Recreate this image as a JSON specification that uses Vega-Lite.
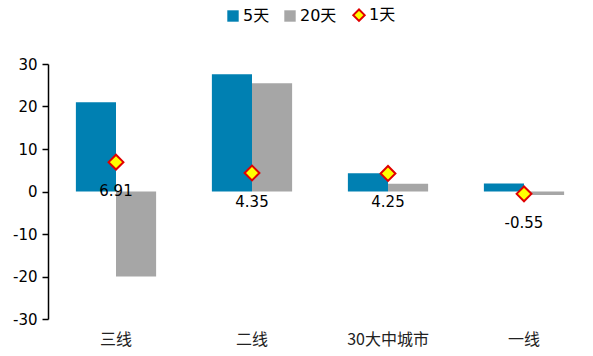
{
  "$schema": "https://vega.github.io/schema/vega-lite/v6.json",
  "autosize": {"type": "none"},
  "width": 544,
  "height": 255,
  "padding": {"left": 48, "top": 64, "right": 1, "bottom": 37},
  "background": "white",
  "config": {
    "view": {"stroke": null},
    "font": "DejaVu Sans"
  },
  "data": {
    "values": [
      {"city": "三线", "series": "5天", "value": 21.0},
      {"city": "三线", "series": "20天", "value": -20.0},
      {"city": "三线", "series": "1天", "value": 6.91},
      {"city": "二线", "series": "5天", "value": 27.6},
      {"city": "二线", "series": "20天", "value": 25.5},
      {"city": "二线", "series": "1天", "value": 4.35},
      {"city": "30大中城市", "series": "5天", "value": 4.3},
      {"city": "30大中城市", "series": "20天", "value": 1.8},
      {"city": "30大中城市", "series": "1天", "value": 4.25},
      {"city": "一线", "series": "5天", "value": 1.9},
      {"city": "一线", "series": "20天", "value": -0.8},
      {"city": "一线", "series": "1天", "value": -0.55}
    ]
  },
  "encoding": {
    "x": {
      "field": "city",
      "type": "nominal",
      "sort": ["三线", "二线", "30大中城市", "一线"],
      "scale": {"paddingInner": 0.41, "paddingOuter": 0.205},
      "axis": {
        "title": null,
        "orient": "bottom",
        "domain": false,
        "ticks": false,
        "labelAngle": 0,
        "labelFont": "Noto Sans CJK SC",
        "labelFontSize": 16,
        "labelColor": "#222222",
        "labelPadding": 12
      }
    }
  },
  "layer": [
    {
      "transform": [{"filter": "datum.series !== '1天'"}],
      "mark": {"type": "bar"},
      "encoding": {
        "xOffset": {"field": "series", "type": "nominal", "sort": ["5天", "20天"], "scale": {"paddingInner": 0, "paddingOuter": 0}},
        "y": {
          "field": "value",
          "type": "quantitative",
          "scale": {"domain": [-30, 30], "nice": false},
          "axis": {
            "title": null,
            "values": [-30, -20, -10, 0, 10, 20, 30],
            "grid": false,
            "domainColor": "#000000",
            "domainWidth": 1.5,
            "tickColor": "#000000",
            "tickWidth": 1.5,
            "tickSize": 6,
            "labelFont": "DejaVu Sans",
            "labelFontSize": 15,
            "labelColor": "#000000",
            "labelPadding": 5,
            "labelExpr": "replace(datum.label, '\u2212', '-')"
          }
        },
        "color": {
          "field": "series",
          "type": "nominal",
          "scale": {"domain": ["5天", "20天", "1天"], "range": ["#0080B2", "#A6A6A6", "#FFFF00"]},
          "legend": {
            "title": null,
            "orient": "none",
            "direction": "horizontal",
            "legendX": 177,
            "legendY": -57,
            "labelFont": "DejaVu Sans, Noto Sans CJK SC",
            "labelFontSize": 16,
            "labelColor": "#000000",
            "symbolSize": 130,
            "labelOffset": 2,
            "columnPadding": 12,
            "encode": {
              "symbols": {
                "update": {
                  "shape": {"signal": "datum.value === '1天' ? 'diamond' : 'square'"},
                  "stroke": {"signal": "datum.value === '1天' ? '#E00000' : null"},
                  "strokeWidth": {"value": 2},
                  "fillOpacity": {"value": 1}
                }
              }
            }
          }
        }
      }
    },
    {
      "mark": {"type": "rule", "color": "#000000", "strokeWidth": 2},
      "encoding": {"y": {"datum": 0, "type": "quantitative"}}
    },
    {
      "transform": [{"filter": "datum.series === '1天'"}],
      "mark": {"type": "point", "shape": "diamond", "size": 220, "filled": true, "fill": "#FFFF00", "stroke": "#E00000", "strokeWidth": 2, "opacity": 1},
      "encoding": {
        "y": {"field": "value", "type": "quantitative"}
      }
    },
    {
      "transform": [{"filter": "datum.series === '1天'"}],
      "mark": {"type": "text", "dy": 29, "fontSize": 15, "font": "DejaVu Sans", "color": "#000000"},
      "encoding": {
        "y": {"field": "value", "type": "quantitative"},
        "text": {"field": "value", "type": "nominal"}
      }
    }
  ]
}
